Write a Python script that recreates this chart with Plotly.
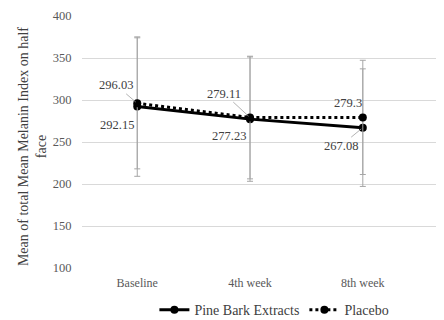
import plotly.graph_objects as go

categories = ["Baseline", "4th week", "8th week"]
pine_values = [292.15, 277.23, 267.08]
placebo_values = [296.03, 279.11, 279.3]
pine_err = [83, 74, 70]
placebo_err = [78, 73, 68]
y_ticks = [100, 150, 200, 250, 300, 350, 400]
y_title = "Mean of total Mean Melanin Index on half<br>face"

FONT = "Liberation Serif, Times New Roman, serif"
x_idx = list(range(len(categories)))

fig = go.Figure()
fig.add_trace(go.Scatter(
    x=x_idx, y=pine_values, name="Pine Bark Extracts", mode="lines+markers",
    line=dict(color="black", width=3, dash="solid"),
    marker=dict(symbol="circle", size=8, color="black"),
    error_y=dict(type="data", array=pine_err, color="#a6a6a6", thickness=1, width=3),
))
fig.add_trace(go.Scatter(
    x=x_idx, y=placebo_values, name="Placebo", mode="lines+markers",
    line=dict(color="black", width=3, dash="dot"),
    marker=dict(symbol="circle", size=8, color="black"),
    error_y=dict(type="data", array=placebo_err, color="#a6a6a6", thickness=1, width=3),
))

label_font = dict(family=FONT, size=12.5, color="#404040")
# (values, category index, x offset px, y offset px (down positive), leader line)
label_specs = [
    (placebo_values, 0, -21, -18, True),
    (pine_values, 0, -20, 18, False),
    (placebo_values, 1, -26, -24, True),
    (pine_values, 1, -21, 17, False),
    (placebo_values, 2, -15, -14, False),
    (pine_values, 2, -22, 18, True),
]
for vals, i, dx, dy, leader in label_specs:
    v = vals[i]
    txt = f"{v:g}"
    if leader:
        fig.add_annotation(x=x_idx[i], y=v, text=txt, showarrow=True, ax=dx, ay=dy,
                           arrowhead=0, arrowwidth=0.8, arrowcolor="#a0a0a0",
                           font=label_font, standoff=2)
    else:
        fig.add_annotation(x=x_idx[i], y=v, text=txt, showarrow=False,
                           xshift=dx, yshift=-dy, font=label_font)

# y-axis title as rotated annotation
fig.add_annotation(text=y_title, textangle=-90, showarrow=False,
                   xref="paper", yref="paper", x=-0.138, y=0.48,
                   xanchor="center", yanchor="middle",
                   font=dict(family=FONT, size=14, color="#404040"))

fig.update_layout(
    width=444, height=320,
    margin=dict(l=74, r=8, t=8, b=60, autoexpand=False),
    paper_bgcolor="white", plot_bgcolor="white",
    font=dict(family=FONT, size=12, color="#595959"),
    showlegend=True,
    legend=dict(orientation="h", xref="container", yref="container",
                x=0.60, xanchor="center", y=0.056, yanchor="middle",
                font=dict(family=FONT, size=14, color="#404040"),
                itemwidth=30, tracegroupgap=0, bgcolor="rgba(0,0,0,0)"),
    xaxis=dict(
        tickmode="array", tickvals=x_idx, ticktext=categories,
        range=[-0.49, 2.72], showgrid=False, zeroline=False, showline=False,
        ticks="outside", ticklen=4, tickcolor="rgba(0,0,0,0)", automargin=False,
        tickfont=dict(family=FONT, size=12, color="#595959"),
    ),
    yaxis=dict(
        range=[100, 400], tickvals=y_ticks, showgrid=True, gridcolor="#d9d9d9",
        gridwidth=1, zeroline=False, showline=False, automargin=False,
        ticks="outside", ticklen=7, tickcolor="rgba(0,0,0,0)",
        tickfont=dict(family=FONT, size=12.5, color="#595959"),
    ),
)

fig.write_html("out.html")
